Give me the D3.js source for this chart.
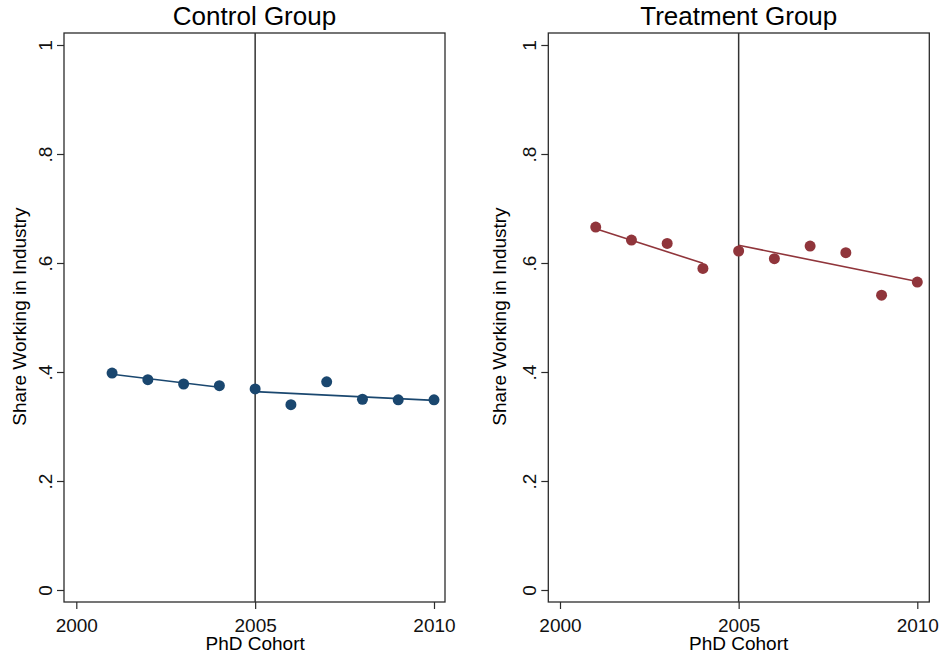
<!DOCTYPE html>
<html><head><meta charset="utf-8">
<script src="https://cdn.jsdelivr.net/npm/d3@7"></script>
<style>body{margin:0;background:#fff}svg{display:block;font-family:"Liberation Sans",Arial,sans-serif}</style>
</head><body><svg id="c" width="940" height="656"></svg>
<script>
const years = [2001,2002,2003,2004,2005,2006,2007,2008,2009,2010];
const controlValues = [0.398,0.386,0.378,0.375,0.369,0.340,0.382,0.350,0.349,0.349];
const treatmentValues = [0.666,0.642,0.636,0.590,0.622,0.608,0.631,0.619,0.541,0.565];
const controlFitPre = [[2001,0.396],[2004,0.372]];
const controlFitPost = [[2005,0.364],[2010,0.348]];
const treatmentFitPre = [[2001,0.663],[2004,0.5995]];
const treatmentFitPost = [[2005,0.6325],[2010,0.566]];
const xTicks = [2000,2005,2010];
const yTicks = [0,0.2,0.4,0.6,0.8,1];
const yTickLabels = ["0",".2",".4",".6",".8","1"];
const cutoffYear = 2005;
const titles = ["Control Group","Treatment Group"];
const xTitle = "PhD Cohort";
const yTitle = "Share Working in Industry";

(function(){
const panels = [
  {title:titles[0], vals:controlValues, pre:controlFitPre, post:controlFitPost, color:"#1a476f", left:64, right:445, x0:76.3, x1:434, yt:26},
  {title:titles[1], vals:treatmentValues, pre:treatmentFitPre, post:treatmentFitPost, color:"#90353b", left:548.3, right:929.3, x0:560, x1:917.3, yt:506}
];
const svg = d3.select("#c");
const plotTop = 33, plotBottom = 602;
const y = d3.scaleLinear().domain([0,1]).range([590,45]);

panels.forEach(p => {
  const x = d3.scaleLinear().domain([2000,2010]).range([p.x0,p.x1]);
  const g = svg.append("g");
  g.append("rect").attr("x",p.left).attr("y",plotTop).attr("width",p.right-p.left).attr("height",plotBottom-plotTop)
    .attr("fill","none").attr("stroke","#2b2b2b").attr("stroke-width",1.3);
  const ya = g.append("g").attr("transform",`translate(${p.left},0)`)
    .call(d3.axisLeft(y).tickValues(yTicks).tickSize(7).tickFormat((d,i)=>yTickLabels[i]));
  ya.select(".domain").remove();
  ya.selectAll(".tick line").attr("stroke","#2b2b2b").attr("stroke-width",1.2);
  ya.selectAll(".tick text").attr("font-size",19).attr("fill","#111").attr("x",null)
    .attr("text-anchor","middle").attr("transform","translate(-18.5,0) rotate(-90)").attr("dy","0.35em");
  const xa = g.append("g").attr("transform",`translate(0,${plotBottom})`)
    .call(d3.axisBottom(x).tickValues(xTicks).tickSize(7).tickFormat(d3.format("d")));
  xa.select(".domain").remove();
  xa.selectAll(".tick line").attr("stroke","#2b2b2b").attr("stroke-width",1.2);
  xa.selectAll(".tick text").attr("font-size",19).attr("fill","#111").attr("y",16.5).attr("dy","0.71em");
  g.append("line").attr("x1",x(cutoffYear)).attr("x2",x(cutoffYear)).attr("y1",plotTop).attr("y2",plotBottom)
    .attr("stroke","#333").attr("stroke-width",1.5);
  const line = d3.line().x(d=>x(d[0])).y(d=>y(d[1]));
  [p.pre,p.post].forEach(seg => g.append("path").attr("d",line(seg)).attr("fill","none")
    .attr("stroke",p.color).attr("stroke-width",1.6));
  g.selectAll("circle.pt").data(years.map((yr,i)=>[yr,p.vals[i]])).enter().append("circle")
    .attr("class","pt").attr("cx",d=>x(d[0])).attr("cy",d=>y(d[1])).attr("r",5.5).attr("fill",p.color);
  g.append("text").attr("x",(p.left+p.right)/2).attr("y",25).attr("text-anchor","middle")
    .attr("font-size",26).attr("fill","#000").text(p.title);
  g.append("text").attr("x",x(2005)).attr("y",650).attr("text-anchor","middle")
    .attr("font-size",19).attr("fill","#000").text(xTitle);
  g.append("text").attr("transform",`translate(${p.yt},316.5) rotate(-90)`)
    .attr("text-anchor","middle").attr("font-size",19).attr("fill","#000").text(yTitle);
});
})();
</script></body></html>
